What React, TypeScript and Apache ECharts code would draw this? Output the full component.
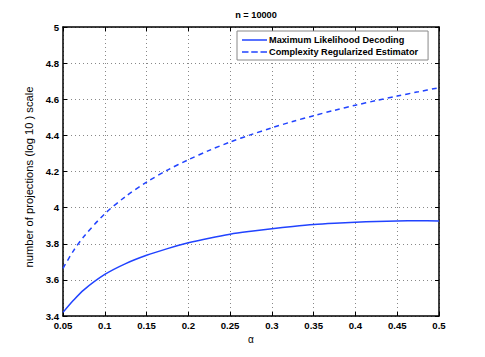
import React, { useEffect, useRef } from "react";
import * as echarts from "echarts";

const alpha = [0.05, 0.0625, 0.075, 0.1, 0.125, 0.15, 0.175, 0.2, 0.225, 0.25, 0.275, 0.3, 0.325, 0.35, 0.375, 0.4, 0.425, 0.45, 0.475, 0.5];
const mlDecoding = [3.42, 3.487, 3.545, 3.63, 3.69, 3.736, 3.773, 3.805, 3.831, 3.853, 3.869, 3.883, 3.896, 3.907, 3.914, 3.919, 3.923, 3.926, 3.927, 3.926];
const crEstimator = [3.664, 3.761, 3.84, 3.966, 4.062, 4.141, 4.208, 4.265, 4.317, 4.363, 4.404, 4.442, 4.477, 4.509, 4.539, 4.567, 4.593, 4.618, 4.641, 4.664];
const seriesNames = ["Maximum Likelihood Decoding", "Complexity Regularized Estimator"];
const title = "n = 10000";
const xName = "α";
const yName = "number of projections (log 10 ) scale";

const FONT = "Liberation Sans, Arial, sans-serif";
const BLUE = "#2143ff";
const SOLID_ICON = "path://M0,0H25V1.5H0Z";
const DASH_ICON = "path://M0,0H6.5V1.5H0Z M9.25,0H15.75V1.5H9.25Z M18.5,0H25V1.5H18.5Z";

export default function App() {
  const ref = useRef<HTMLDivElement>(null);
  useEffect(() => {
    if (!ref.current) return;
    const chart = echarts.init(ref.current, null, { renderer: "svg" });
    const tickStyle = { show: true, inside: true, length: 4, lineStyle: { color: "#000", width: 1 } };
    const axisLine = { show: true, lineStyle: { color: "#000", width: 1.5 } };
    const labelStyle = { color: "#000", fontFamily: FONT, fontSize: 9.6, fontWeight: "bold" as const };
    const grid = { show: true, lineStyle: { color: "#888", type: [1, 3] as any, width: 1 } };
    chart.setOption({
      animation: false,
      backgroundColor: "#fff",
      title: {
        text: title,
        left: 251,
        textAlign: "center",
        top: 5,
        textStyle: { color: "#000", fontFamily: FONT, fontSize: 9.2, fontWeight: "bold" },
      },
      grid: { left: 63, right: 46, top: 27, bottom: 41, containLabel: false },
      legend: {
        orient: "vertical",
        left: 237,
        top: 31,
        padding: [3, 10, 2, 5],
        itemGap: 0,
        itemWidth: 25,
        itemHeight: 1.5,
        backgroundColor: "#fff",
        borderColor: "#888",
        borderWidth: 1,
        borderRadius: 0,
        textStyle: { color: "#000", fontFamily: FONT, fontSize: 9.2, fontWeight: "bold", lineHeight: 12, padding: [0, 0, 0, -3] },
        data: [
          { name: seriesNames[0], icon: SOLID_ICON },
          { name: seriesNames[1], icon: DASH_ICON },
        ],
      },
      xAxis: [
        {
          type: "value",
          min: 0.05,
          max: 0.5,
          interval: 0.05,
          name: xName,
          nameLocation: "middle",
          nameGap: 14,
          nameTextStyle: { color: "#000", fontFamily: FONT, fontSize: 10 },
          axisLine,
          axisTick: tickStyle,
          axisLabel: { ...labelStyle, margin: 4 },
          splitLine: grid,
        },
        {
          type: "value",
          position: "top",
          min: 0.05,
          max: 0.5,
          interval: 0.05,
          axisLine,
          axisTick: tickStyle,
          axisLabel: { show: false },
          splitLine: { show: false },
        },
      ],
      yAxis: [
        {
          type: "value",
          min: 3.4,
          max: 5,
          interval: 0.2,
          name: yName,
          nameLocation: "middle",
          nameGap: 21,
          nameTextStyle: { color: "#000", fontFamily: FONT, fontSize: 11.2, padding: [0, 11, 0, 0] },
          axisLine,
          axisTick: tickStyle,
          axisLabel: { ...labelStyle, margin: 4 },
          splitLine: grid,
        },
        {
          type: "value",
          position: "right",
          min: 3.4,
          max: 5,
          interval: 0.2,
          axisLine,
          axisTick: tickStyle,
          axisLabel: { show: false },
          splitLine: { show: false },
        },
      ],
      series: [
        {
          name: seriesNames[0],
          type: "line",
          data: alpha.map((a, i) => [a, mlDecoding[i]]),
          smooth: 0.3,
          symbol: "none",
          lineStyle: { color: BLUE, width: 1.5, type: "solid" },
          itemStyle: { color: BLUE },
        },
        {
          name: seriesNames[1],
          type: "line",
          data: alpha.map((a, i) => [a, crEstimator[i]]),
          smooth: 0.3,
          symbol: "none",
          lineStyle: { color: BLUE, width: 1.5, type: [5, 4] },
          itemStyle: { color: BLUE },
        },
      ],
    });
    return () => chart.dispose();
  }, []);
  return <div ref={ref} style={{ width: 485, height: 357, position: "absolute", left: 0, top: 0 }} />;
}
